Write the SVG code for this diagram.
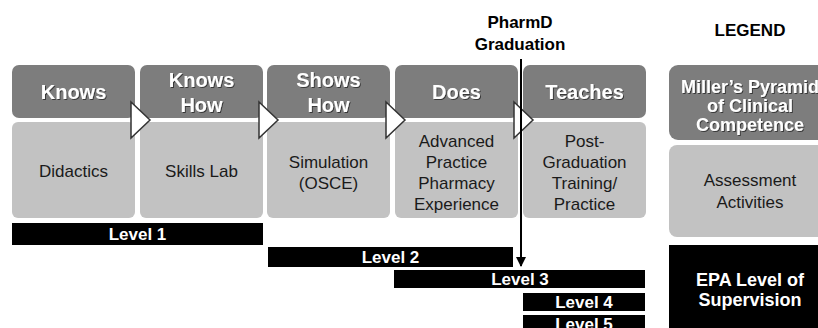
<svg xmlns="http://www.w3.org/2000/svg" width="818" height="328" viewBox="0 0 818 328">
<defs>
<filter id="sh" x="-10%" y="-10%" width="130%" height="140%">
<feDropShadow dx="1" dy="1" stdDeviation="0.6" flood-color="#000" flood-opacity="0.55"/>
</filter>
<marker id="ah" markerWidth="10" markerHeight="10" refX="9" refY="5" orient="auto" markerUnits="userSpaceOnUse">
<path d="M0,0 L10,5 L0,10 Z" fill="#000"/>
</marker>
</defs>
<style>
.top{fill:#7d7d7d}
.low{fill:#c2c2c2}
.bar{fill:#000}
.tt{font-family:"Liberation Sans",Arial,sans-serif;font-weight:bold;font-size:20px;fill:#fff;text-anchor:middle}
.lt{font-family:"Liberation Sans",Arial,sans-serif;font-size:17px;fill:#1a1a1a;text-anchor:middle}
.bt{font-family:"Liberation Sans",Arial,sans-serif;font-weight:bold;font-size:17px;fill:#fff;text-anchor:middle}
.hd{font-family:"Liberation Sans",Arial,sans-serif;font-weight:bold;font-size:17px;fill:#000;text-anchor:middle}
.lg{font-family:"Liberation Sans",Arial,sans-serif;font-weight:bold;font-size:18px;fill:#fff;text-anchor:middle}
.tri{fill:#fff;stroke:#333;stroke-width:1.5;stroke-linejoin:miter}
</style>
<rect width="818" height="328" fill="#fff"/>

<g id="knows">
<rect class="top" x="12" y="65" width="123" height="53" rx="7"/>
<rect class="low" x="12" y="122" width="123" height="96" rx="6"/>
<text class="tt" x="73.5" y="99" filter="url(#sh)">Knows</text>
<text class="lt" x="73.5" y="177">Didactics</text>
</g>
<g id="knowshow">
<rect class="top" x="140" y="65" width="123" height="53" rx="7"/>
<rect class="low" x="140" y="122" width="123" height="96" rx="6"/>
<text class="tt" x="201.5" y="87" filter="url(#sh)">Knows</text>
<text class="tt" x="201.5" y="112" filter="url(#sh)">How</text>
<text class="lt" x="201.5" y="177">Skills Lab</text>
</g>
<g id="showshow">
<rect class="top" x="267" y="65" width="123" height="53" rx="7"/>
<rect class="low" x="267" y="122" width="123" height="96" rx="6"/>
<text class="tt" x="328.5" y="87" filter="url(#sh)">Shows</text>
<text class="tt" x="328.5" y="112" filter="url(#sh)">How</text>
<text class="lt" x="328.5" y="168">Simulation</text>
<text class="lt" x="328.5" y="189">(OSCE)</text>
</g>
<g id="does">
<rect class="top" x="395" y="65" width="123" height="53" rx="7"/>
<rect class="low" x="395" y="122" width="123" height="96" rx="6"/>
<text class="tt" x="456.5" y="99" filter="url(#sh)">Does</text>
<text class="lt" x="456.5" y="147">Advanced</text>
<text class="lt" x="456.5" y="168">Practice</text>
<text class="lt" x="456.5" y="189">Pharmacy</text>
<text class="lt" x="456.5" y="210">Experience</text>
</g>
<g id="teaches">
<rect class="top" x="523" y="65" width="123" height="53" rx="7"/>
<rect class="low" x="523" y="122" width="123" height="96" rx="6"/>
<text class="tt" x="584.5" y="99" filter="url(#sh)">Teaches</text>
<text class="lt" x="584.5" y="147">Post-</text>
<text class="lt" x="584.5" y="168">Graduation</text>
<text class="lt" x="584.5" y="189">Training/</text>
<text class="lt" x="584.5" y="210">Practice</text>
</g>

<g id="levels">
<rect class="bar" x="12" y="223" width="251" height="22"/>
<text class="bt" x="137.5" y="240">Level 1</text>
<rect class="bar" x="268" y="247" width="245" height="20"/>
<text class="bt" x="390.5" y="263">Level 2</text>
<rect class="bar" x="394" y="270" width="251" height="18"/>
<text class="bt" x="520" y="285">Level 3</text>
<rect class="bar" x="523" y="293" width="122" height="18"/>
<text class="bt" x="584" y="308">Level 4</text>
<rect class="bar" x="523" y="315" width="122" height="18"/>
<text class="bt" x="584" y="330">Level 5</text>
</g>

<g id="graduation">
<text class="hd" x="520" y="28">PharmD</text>
<text class="hd" x="520" y="50">Graduation</text>
</g>

<g id="legend">
<text class="hd" x="750" y="36">LEGEND</text>
<rect class="top" x="669" y="65" width="163" height="75" rx="9"/>
<text class="lg" x="750" y="93" filter="url(#sh)">Miller’s Pyramid</text>
<text class="lg" x="750" y="112" filter="url(#sh)">of Clinical</text>
<text class="lg" x="750" y="131" filter="url(#sh)">Competence</text>
<rect class="low" x="669" y="145" width="163" height="92" rx="8"/>
<text class="lt" x="750" y="186">Assessment</text>
<text class="lt" x="750" y="208">Activities</text>
<rect class="bar" x="669" y="245" width="163" height="90"/>
<text class="lg" x="750" y="286">EPA Level of</text>
<text class="lg" x="750" y="306">Supervision</text>
</g>

<g id="connectors">
<polygon class="tri" points="131,102 150,120 131,138"/>
<polygon class="tri" points="259,102 278,120 259,138"/>
<polygon class="tri" points="386,102 405,120 386,138"/>
<polygon class="tri" points="514,102 533,120 514,138"/>
<line x1="521" y1="59" x2="521" y2="266" stroke="#000" stroke-width="2" marker-end="url(#ah)"/>
</g>
</svg>
